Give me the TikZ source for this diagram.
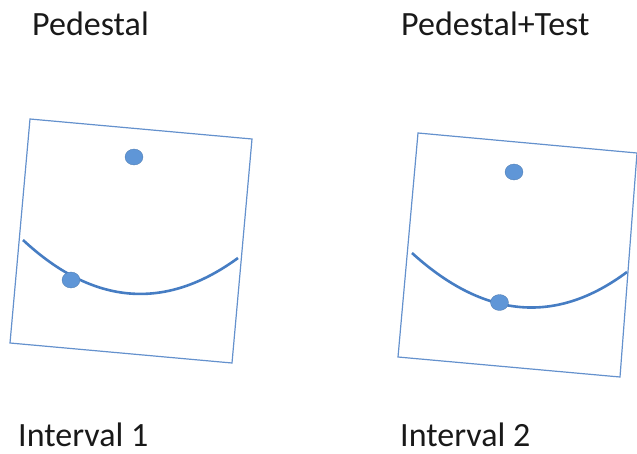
\documentclass[tikz,border=0pt]{standalone}
\usepackage{fontspec}
\setmainfont{Carlito}
\usetikzlibrary{shapes.geometric}
\definecolor{boxblue}{RGB}{100,145,205}
\definecolor{curveblue}{RGB}{70,125,195}
\definecolor{dotblue}{RGB}{95,150,215}
\begin{document}
\begin{tikzpicture}[x=1pt,y=-1pt,
  lbl/.style={anchor=base west,inner sep=0pt,font=\fontsize{34}{40}\selectfont,text=black!90},
  frame/.style={draw=boxblue,line width=1.2pt},
  bowl/.style={draw=curveblue,line width=2.6pt},
  ball/.style={ellipse,fill=dotblue,draw=dotblue!80!black,line width=0.3pt,minimum width=18pt,minimum height=16pt,inner sep=0pt}]
\useasboundingbox (0,0) rectangle (637,453);
% labels
\node[lbl] (t1) at (32,35) {Pedestal};
\node[lbl] (t2) at (401,35) {Pedestal+Test};
\node[lbl] (b1) at (18,446) {Interval 1};
\node[lbl] (b2) at (400,446) {Interval 2};
% left panel
\coordinate (L1) at (30,119);
\coordinate (L2) at (252,139);
\coordinate (L3) at (232,363);
\coordinate (L4) at (10,343);
\draw[frame] (L1) -- (L2) -- (L3) -- (L4) -- cycle;
\coordinate (LA) at (23,240);
\coordinate (LB) at (238,258);
\draw[bowl] (LA) .. controls (94,306) and (165.7,310.7) .. (LB);
\node[ball] (ld1) at (134,157) {};
\node[ball] (ld2) at (71,280) {};
% right panel
\coordinate (R1) at (418,133);
\coordinate (R2) at (637,153);
\coordinate (R3) at (620,377);
\coordinate (R4) at (398,357);
\draw[frame] (R1) -- (R2) -- (R3) -- (R4) -- cycle;
\coordinate (RA) at (412,253);
\coordinate (RB) at (627,272);
\draw[bowl] (RA) .. controls (484.3,318.7) and (556,325) .. (RB);
\node[ball] (rd1) at (514,172) {};
\node[ball] (rd2) at (499.5,302.5) {};
\end{tikzpicture}
\end{document}
